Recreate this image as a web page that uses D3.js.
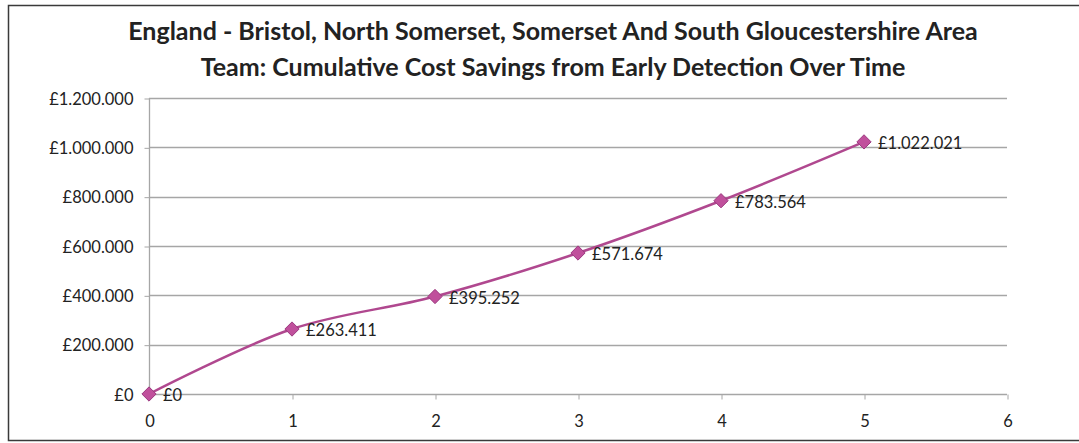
<!DOCTYPE html>
<html lang="en">
<head>
<meta charset="utf-8">
<script src="https://cdn.jsdelivr.net/npm/d3@7"></script>
<style>
    body { margin: 0; background: #fff; }
    .axis text { font-family: Lato, "Open Sans", sans-serif; font-size: 16.5px; fill: #222; }
    .axis path { display: none; }
    .axis line { stroke: #a6a6a6; }
</style>
</head>
<body>
<script>
const years = [0, 1, 2, 3, 4, 5];
const savings = [0, 263411, 395252, 571674, 783564, 1022021];
const yTicks = [0, 200000, 400000, 600000, 800000, 1000000, 1200000];
const xTicks = [0, 1, 2, 3, 4, 5, 6];
const titleLines = [
    "England - Bristol, North Somerset, Somerset And South Gloucestershire Area",
    "Team: Cumulative Cost Savings from Early Detection Over Time"
];

const w = 1079, h = 443;
const plotLeft = 149, plotRight = 1007, plotTop = 98, plotBottom = 394;

// european style thousands separator
const money = d3.formatLocale({decimal: ",", thousands: ".", grouping: [3], currency: ["£", ""]}).format("$,.0f");

let svg = d3.select("body").append("svg")
    .attr("width", w)
    .attr("height", h);

svg.append("rect")
    .attr("x", 8.5).attr("y", 5.5)
    .attr("width", 1100).attr("height", 435)
    .attr("fill", "none")
    .attr("stroke", "#3a3a3a")
    .attr("stroke-width", 1.5);

let xScale = d3.scaleLinear().domain([0, 6]).range([plotLeft, plotRight]);
let yScale = d3.scaleLinear().domain([0, 1200000]).range([plotBottom, plotTop]);

// gridlines
svg.append("g").selectAll("line")
    .data(yTicks)
    .enter()
    .append("line")
    .attr("x1", plotLeft).attr("x2", plotRight)
    .attr("y1", (d) => Math.round(yScale(d)) + 0.5)
    .attr("y2", (d) => Math.round(yScale(d)) + 0.5)
    .attr("stroke", "#a6a6a6")
    .attr("stroke-width", 1.3);

// vertical axis line
svg.append("line")
    .attr("x1", plotLeft + 0.5).attr("x2", plotLeft + 0.5)
    .attr("y1", plotTop).attr("y2", plotBottom)
    .attr("stroke", "#a6a6a6")
    .attr("stroke-width", 1.3);

let yAxis = d3.axisLeft(yScale).tickValues(yTicks).tickFormat(money).tickSize(5).tickPadding(11);
svg.append("g")
    .attr("class", "axis")
    .attr("transform", "translate(" + (plotLeft + 0.5) + ",0.5)")
    .call(yAxis)
    .selectAll("text").attr("dy", "0.35em");

let xAxis = d3.axisBottom(xScale).tickValues(xTicks).tickFormat(d3.format("d")).tickSize(5).tickPadding(16);
svg.append("g")
    .attr("class", "axis")
    .attr("transform", "translate(0.5," + (plotBottom + 0.5) + ")")
    .call(xAxis);

// title
svg.append("g").selectAll("text")
    .data(titleLines)
    .enter()
    .append("text")
    .attr("x", 553)
    .attr("y", (d, i) => 40 + i * 36)
    .attr("text-anchor", "middle")
    .attr("font-family", "Lato, 'Open Sans', sans-serif")
    .attr("font-weight", "bold")
    .attr("font-size", "25px")
    .attr("fill", "#222")
    .text((d) => d);

const pts = years.map((d, i) => [d, savings[i]]);

let line = d3.line()
    .x((d) => xScale(d[0]))
    .y((d) => yScale(d[1]))
    .curve(d3.curveCatmullRom.alpha(0.5));

svg.append("path")
    .datum(pts)
    .attr("d", line)
    .attr("fill", "none")
    .attr("stroke", "#b0488f")
    .attr("stroke-width", 2.5);

svg.append("g").selectAll("path")
    .data(pts)
    .enter()
    .append("path")
    .attr("d", d3.symbol(d3.symbolDiamond2, 130))
    .attr("transform", (d) => "translate(" + xScale(d[0]) + "," + yScale(d[1]) + ")")
    .attr("fill", "#c0509c")
    .attr("stroke", "#9c3a80")
    .attr("stroke-width", 1);

svg.append("g").selectAll("text")
    .data(pts)
    .enter()
    .append("text")
    .attr("x", (d) => xScale(d[0]) + 14)
    .attr("y", (d) => yScale(d[1]) + 7)
    .attr("font-family", "Lato, 'Open Sans', sans-serif")
    .attr("font-size", "16.5px")
    .attr("fill", "#222")
    .text((d) => money(d[1]));
</script>
</body>
</html>
